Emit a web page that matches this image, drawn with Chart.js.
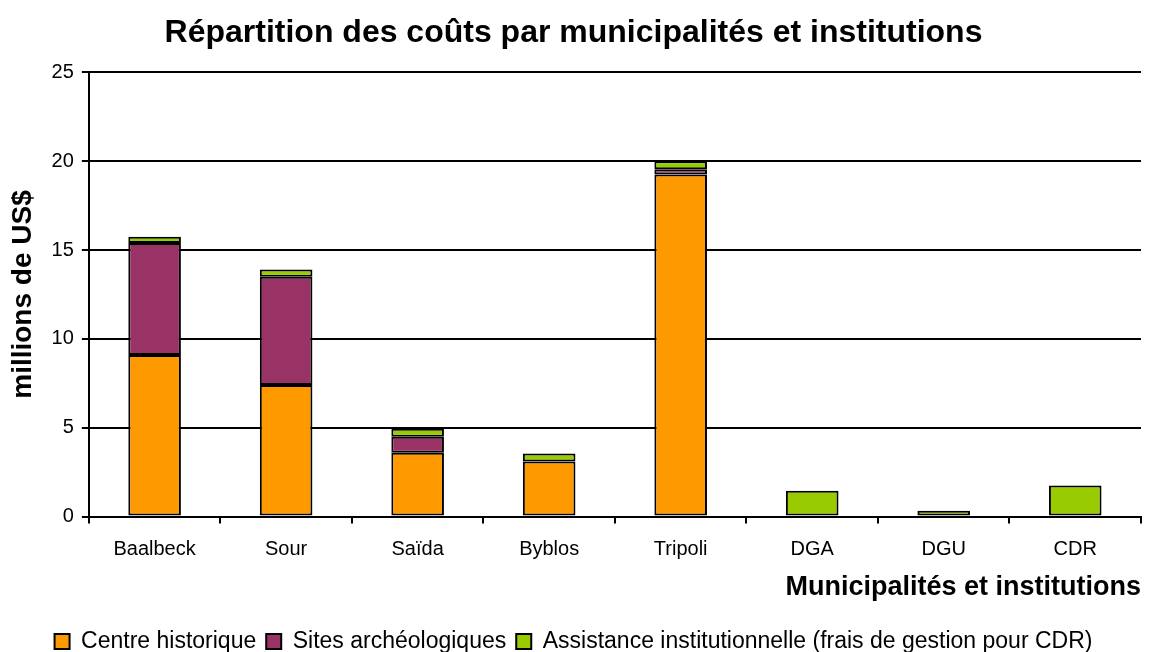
<!DOCTYPE html>
<html>
<head>
<meta charset="utf-8">
<script src="https://cdn.jsdelivr.net/npm/chart.js@4"></script>
<style>
  body { margin: 0; background: #fff; }
  #wrap { width: 1151px; height: 652px; }
</style>
</head>
<body>
<div id="wrap"><canvas id="couts" width="1151" height="652"></canvas></div>
<script>
// Data block
const categories = ['Baalbeck', 'Sour', 'Saïda', 'Byblos', 'Tripoli', 'DGA', 'DGU', 'CDR'];
const centreHistorique = [9.1, 7.4, 3.6, 3.1, 19.25, null, null, null];
const sitesArcheo = [6.3, 6.1, 0.9, null, 0.3, null, null, null];
const assistance = [0.35, 0.4, 0.45, 0.45, 0.45, 1.45, 0.33, 1.75];
const yTicks = [0, 5, 10, 15, 20, 25];

const fontFamily = '"Liberation Sans", Arial, sans-serif';

const coutsData = {
    labels: categories,
    datasets: [{
        label: 'Centre historique',
        data: centreHistorique,
        backgroundColor: '#FF9900',
    }, {
        label: 'Sites archéologiques',
        data: sitesArcheo,
        backgroundColor: '#993366',
    }, {
        label: 'Assistance institutionnelle (frais de gestion pour CDR)',
        data: assistance,
        backgroundColor: '#99CC00',
    }]
};
coutsData.datasets.forEach(ds => {
    ds.borderColor = '#000';
    ds.borderWidth = 2;
    ds.borderSkipped = false;
    ds.barPercentage = 0.4;
    ds.categoryPercentage = 1.0;
});

// Legend fit plugin: keep item spacing but take less vertical room
const legendTighten = {
    id: 'legendTighten',
    beforeInit(chart) {
        const fitValue = chart.legend.fit;
        chart.legend.fit = function fit() {
            fitValue.bind(chart.legend)();
            this.height -= 9;
        };
    }
};

const coutsConfig = {
    type: 'bar',
    data: coutsData,
    options: {
        responsive: false,
        animation: false,
        layout: { padding: { left: 6, right: 10, top: 6, bottom: -2 } },
        plugins: {
            title: {
                display: true,
                text: 'Répartition des coûts par municipalités et institutions',
                color: '#000',
                font: { family: fontFamily, size: 32, weight: 'bold' },
                padding: { top: 8, bottom: 20 }
            },
            legend: {
                position: 'bottom',
                labels: {
                    color: '#000',
                    font: { family: fontFamily, size: 23 },
                    boxWidth: 15,
                    boxHeight: 15,
                    padding: 10
                }
            },
            tooltip: { enabled: false }
        },
        scales: {
            x: {
                stacked: true,
                grid: {
                    offset: true,
                    drawOnChartArea: false,
                    color: '#000',
                    lineWidth: 2,
                    tickLength: 7
                },
                border: { color: '#000', width: 2 },
                ticks: {
                    color: '#000',
                    font: { family: fontFamily, size: 20 },
                    padding: 14
                },
                title: {
                    display: true,
                    text: 'Municipalités et institutions',
                    align: 'end',
                    color: '#000',
                    font: { family: fontFamily, size: 27, weight: 'bold' },
                    padding: { top: -4, bottom: 16 }
                }
            },
            y: {
                stacked: true,
                min: yTicks[0],
                max: yTicks[yTicks.length - 1],
                afterBuildTicks: axis => { axis.ticks = yTicks.map(v => ({ value: v })); },
                grid: {
                    color: '#000',
                    lineWidth: 2,
                    tickLength: 7
                },
                border: { color: '#000', width: 2 },
                ticks: {
                    color: '#000',
                    font: { family: fontFamily, size: 20 },
                    padding: 8
                },
                title: {
                    display: true,
                    text: 'millions de US$',
                    color: '#000',
                    font: { family: fontFamily, size: 28, weight: 'bold' },
                    padding: { top: 0, bottom: 4 }
                }
            }
        }
    },
    plugins: [legendTighten]
};

const coutsChart = new Chart(document.getElementById('couts'), coutsConfig);
</script>
</body>
</html>
